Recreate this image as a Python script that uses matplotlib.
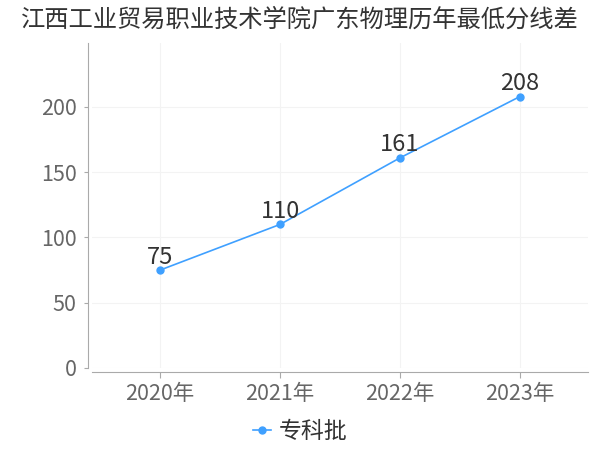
import matplotlib
matplotlib.use("Agg")
import matplotlib.pyplot as plt

plt.rcParams['font.family'] = ['Noto Sans CJK SC', 'DejaVu Sans']

title = "江西工业贸易职业技术学院广东物理历年最低分线差"
years = ["2020年", "2021年", "2022年", "2023年"]
values = [75, 110, 161, 208]
series_name = "专科批"
yticks = [0, 50, 100, 150, 200]

color = "#3fa0ff"
fig = plt.figure(figsize=(6, 4.5), dpi=100)
ax = fig.add_axes([92/600, (450-368)/450, (588-92)/600, (368-43)/450])
x = list(range(len(years)))
ax.plot(x, values, color=color, lw=1.2, marker='o', ms=5, label=series_name)
for xi, v in zip(x, values):
    ax.annotate(str(v), (xi, v), xytext=(0, 1), textcoords='offset points',
                ha='center', va='bottom', fontsize=17, color='#333333')
ax.set_xlim(-0.567, 3.567)
ax.set_ylim(0, 249)
ax.set_xticks(x)
ax.set_xticklabels(years)
ax.set_yticks(yticks)
ax.tick_params(axis='both', labelsize=15.5, colors='#666666')
ax.tick_params(axis='y', length=3, color='#aaaaaa', pad=5)
ax.tick_params(axis='x', length=4, color='#aaaaaa', pad=4)
ax.grid(True, color='#f3f3f3', lw=0.8)
ax.set_axisbelow(True)
for s in ['top', 'right']:
    ax.spines[s].set_visible(False)
for s in ['left', 'bottom']:
    ax.spines[s].set_color('#aaaaaa')
    ax.spines[s].set_position(('outward', 3))
fig.text(0.5, 1 - 20/450, title, ha='center', va='center', fontsize=17.5, color='#333333')
fig.legend(loc='center', bbox_to_anchor=(300/600, 1 - 432/450), frameon=False,
           fontsize=16.5, handlelength=0.8, handletextpad=0.3, labelcolor='#333333')
fig.savefig("out.png", dpi=100)
